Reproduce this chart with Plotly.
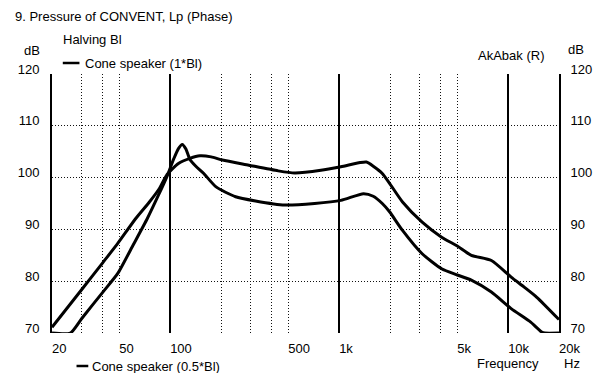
import math
import plotly.graph_objects as go

# ---- data ----
freq_full = [20, 30, 40, 49, 62.6, 75, 86, 96, 112, 131, 150, 175, 204, 292, 436, 546, 780,
             1024, 1331, 1450, 1592, 1800, 1988, 2372, 3100, 4040, 5000, 6060, 7960, 10420,
             12400, 14780, 20000]
spl_full = [71.1, 78.4, 83.6, 87.3, 92.1, 95.2, 97.8, 100.6, 102.7, 103.7, 104.2, 104.0, 103.4,
            102.4, 101.3, 100.9, 101.4, 102.1, 102.9, 103.0, 102.2, 100.8, 98.9, 95.3, 91.4,
            88.5, 86.8, 85.0, 84.0, 80.8, 78.9, 76.9, 72.6]

freq_half = [20, 25.7, 30, 40, 49, 60, 73.3, 85, 96, 105, 112, 118, 124, 131, 142, 157, 187,
             244, 320, 476, 716, 1024, 1394, 1592, 1800, 1988, 2372, 3100, 4040, 5000, 6060,
             7960, 10420, 13600, 15800, 16500, 20000]
spl_half = [70, 70, 72.8, 77.9, 81.5, 86.8, 92.1, 96.5, 100.3, 103.6, 105.6, 106.4, 105.5, 103.5,
            102.2, 100.9, 98.2, 96.3, 95.5, 94.7, 95.0, 95.6, 96.9, 96.4, 95.0, 93.4, 89.8, 85.3,
            82.4, 81.2, 80.2, 77.9, 74.7, 72.1, 70.2, 70, 70]

x_label_vals = [20, 50, 100, 500, 1000, 5000, 10000, 20000]
x_labels = ["20", "50", "100", "500", "1k", "5k", "10k", "20k"]
x_dotted_grid = [30, 40, 50, 200, 300, 400, 500, 2000, 3000, 4000, 5000]
x_decade_lines = [100, 1000, 10000]
y_ticks = [70, 80, 90, 100, 110, 120]

# ---- layout geometry ----
W, H = 604, 373
L, R, T, B = 52, 35, 74, 40
PW, PH = W - L - R, H - T - B

def px(x):
    return (x - L) / PW

def py(y):
    return (H - B - y) / PH

FONT = "Liberation Sans, Arial, sans-serif"
fs = 13
xr = [math.log10(20), math.log10(20000)]

fig = go.Figure()
fig.add_trace(go.Scatter(x=freq_full, y=spl_full, mode="lines", xaxis="x", yaxis="y",
                         line=dict(color="black", width=3, shape="spline", smoothing=0.6),
                         name="Cone speaker (1*Bl)", showlegend=False))
fig.add_trace(go.Scatter(x=freq_half, y=spl_half, mode="lines", xaxis="x2", yaxis="y2",
                         line=dict(color="black", width=3, shape="spline", smoothing=0.6),
                         name="Cone speaker (0.5*Bl)", showlegend=False))

grid_col = "#111111"
tf = dict(family=FONT, size=fs, color="black")
fig.update_layout(
    width=W, height=H,
    margin=dict(l=L, r=R, t=T, b=B),
    paper_bgcolor="white", plot_bgcolor="white",
    font=dict(family=FONT, size=fs, color="black"),
    xaxis=dict(type="log", range=xr, tickvals=x_label_vals, ticktext=x_labels,
               ticklabelposition="outside right", ticks="", showgrid=False,
               zeroline=False, showline=False, ticklabelstandoff=6, tickfont=tf,
               minor=dict(tickvals=x_dotted_grid, showgrid=True, gridcolor=grid_col,
                          griddash="1px,2px", gridwidth=1, ticks="")),
    xaxis2=dict(type="log", range=xr, overlaying="x", anchor="y2", side="bottom",
                tickvals=x_decade_lines, showticklabels=False, ticks="",
                showgrid=True, gridcolor="black", gridwidth=2, zeroline=False,
                showline=False),
    yaxis=dict(range=[70, 120], tickvals=y_ticks, ticks="", showgrid=True,
               gridcolor=grid_col, griddash="1px,2px", gridwidth=1, zeroline=False,
               showline=True, linecolor="black", linewidth=2,
               ticklabelshift=-5, ticklabelstandoff=8, tickfont=tf),
    yaxis2=dict(range=[70, 120], tickvals=y_ticks, ticks="", overlaying="y", side="right",
                anchor="x2", showgrid=False, zeroline=False, showline=True,
                linecolor="black", linewidth=2, ticklabelshift=-5,
                ticklabelstandoff=7, tickfont=tf),
)

def ann(text, x, y, xanchor="left"):
    fig.add_annotation(text=text, xref="paper", yref="paper", x=px(x), y=py(y),
                       xanchor=xanchor, yanchor="middle", showarrow=False,
                       font=dict(family=FONT, size=fs, color="black"))

def legend_line(x0, x1, y):
    fig.add_shape(type="line", xref="paper", yref="paper", x0=px(x0), x1=px(x1),
                  y0=py(y), y1=py(y), line=dict(color="black", width=2.5))

ann("9. Pressure of CONVENT, Lp (Phase)", 12, 16)
ann("Halving Bl", 61, 39)
ann("dB", 42, 51, xanchor="right")
legend_line(63, 80, 63)
ann("Cone speaker (1*Bl)", 84, 63)
ann("AkAbak (R)", 484, 56)
ann("dB", 576, 50)
legend_line(77, 89, 366)
ann("Cone speaker (0.5*Bl)", 91, 366)
ann("Frequency", 483, 363)
ann("Hz", 572, 363)

fig.write_html("out.html")
